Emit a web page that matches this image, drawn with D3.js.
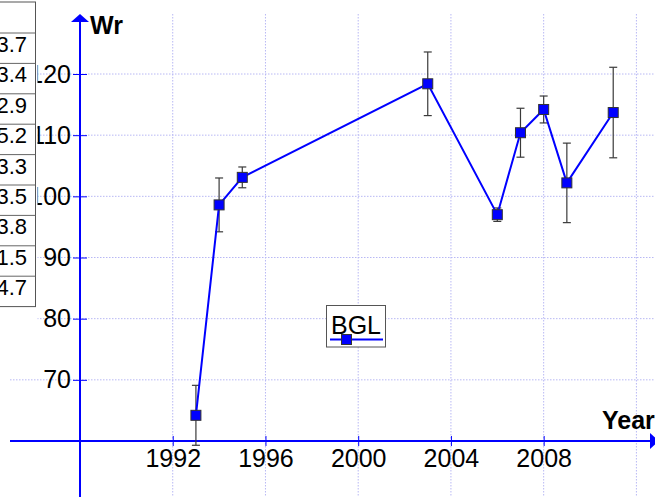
<!DOCTYPE html>
<html>
<head>
<meta charset="utf-8">
<script src="https://cdn.jsdelivr.net/npm/d3@7"></script>
<style>
  body { margin: 0; background: #fff; }
  svg { display: block; }
</style>
</head>
<body>
<svg class="main" width="655" height="497"></svg>
<script>
// data
var years = [1993, 1994, 1995, 2003, 2006, 2007, 2008, 2009, 2011]
var values = [64.2, 98.6, 103.1, 118.4, 97.0, 110.4, 114.2, 102.2, 113.7]
var errors = [4.9, 4.4, 1.7, 5.2, 1.1, 4.0, 2.2, 6.5, 7.4]
var xTicks = [1992, 1996, 2000, 2004, 2008]
var yTicks = [70, 80, 90, 100, 110, 120]
var tableValues = ['3.7', '3.4', '2.9', '5.2', '3.3', '3.5', '3.8', '1.5', '4.7']
var seriesName = 'BGL'

var data = years.map(function(d, i) {
  return {year: d, value: values[i], err: errors[i]}
})

const W = 655, H = 497
const font = "'Liberation Sans', Arial, sans-serif"
const blue = '#0000ff'
const gridColor = '#b8b8f4'

const svg = d3.select('svg.main')

// scales
const x = d3.scaleLinear().domain([1988, 2012]).range([80, 636.4])
const y = d3.scaleLinear().domain([60, 120]).range([441, 74])

// grid
const grid = svg.append('g').attr('class', 'grid')
grid.selectAll('line.v')
  .data(xTicks.concat([2012]))
  .join('line')
  .attr('class', 'v')
  .attr('x1', d => x(d)).attr('x2', d => x(d))
  .attr('y1', 14).attr('y2', H)
grid.selectAll('line.h')
  .data(yTicks)
  .join('line')
  .attr('class', 'h')
  .attr('x1', 10).attr('x2', W)
  .attr('y1', d => y(d)).attr('y2', d => y(d))
grid.selectAll('line')
  .attr('stroke', gridColor)
  .attr('stroke-width', 1)
  .attr('stroke-dasharray', '1.5,1.5')

// y axis labels and ticks
const yAxis = svg.append('g')
  .attr('transform', `translate(${x(1988)},0)`)
  .call(d3.axisLeft(y).tickValues(yTicks).tickSize(7).tickPadding(2))
yAxis.select('.domain').remove()
yAxis.selectAll('.tick line').attr('x1', -7).attr('x2', 7).attr('stroke', blue)
yAxis.selectAll('.tick text')
  .attr('font-family', font).attr('font-size', 25).attr('fill', '#000')

// white area under the (cut off) table
svg.append('rect')
  .attr('x', 0).attr('y', 0).attr('width', 37.5).attr('height', 330)
  .attr('fill', '#fff')

// table at the left edge
const rowH = 30.4, tableTop = 2, headH = 31
const table = svg.append('g').attr('class', 'table')
table.append('rect')
  .attr('x', -5).attr('y', tableTop).attr('width', 40.5)
  .attr('height', headH + rowH * tableValues.length)
  .attr('fill', '#fff').attr('stroke', '#555').attr('stroke-width', 1)
table.selectAll('line')
  .data(tableValues)
  .join('line')
  .attr('x1', 0).attr('x2', 35.5)
  .attr('y1', (d, i) => tableTop + headH + i * rowH)
  .attr('y2', (d, i) => tableTop + headH + i * rowH)
  .attr('stroke', '#666')
table.selectAll('text')
  .data(tableValues)
  .join('text')
  .attr('x', 27)
  .attr('y', (d, i) => tableTop + headH + i * rowH + 19)
  .attr('text-anchor', 'end')
  .attr('font-family', font).attr('font-size', 22)
  .text(d => d)

// x axis labels and ticks
const xAxis = svg.append('g')
  .attr('transform', `translate(0,${y(60)})`)
  .call(d3.axisBottom(x).tickValues(xTicks).tickFormat(d3.format('d')).tickSize(5).tickPadding(3.5))
xAxis.select('.domain').remove()
xAxis.selectAll('.tick line').attr('y1', -5).attr('y2', 5).attr('stroke', blue)
xAxis.selectAll('.tick text')
  .attr('font-family', font).attr('font-size', 25).attr('fill', '#000')

// axis lines with arrows
svg.append('line')
  .attr('x1', 10).attr('x2', 650).attr('y1', y(60)).attr('y2', y(60))
  .attr('stroke', blue).attr('stroke-width', 2)
svg.append('path')
  .attr('d', `M650,${y(60) - 8}L659,${y(60)}L650,${y(60) + 8}Z`)
  .attr('fill', blue)
svg.append('line')
  .attr('x1', x(1988)).attr('x2', x(1988)).attr('y1', 20).attr('y2', H)
  .attr('stroke', blue).attr('stroke-width', 2)
svg.append('path')
  .attr('d', `M${x(1988) - 9},22L${x(1988)},14L${x(1988) + 9},22Z`)
  .attr('fill', blue)

// axis titles
svg.append('text')
  .attr('x', 90).attr('y', 34)
  .attr('font-family', font).attr('font-size', 25).attr('font-weight', 'bold')
  .text('Wr')
svg.append('text')
  .attr('x', 602).attr('y', 429)
  .attr('font-family', font).attr('font-size', 25).attr('font-weight', 'bold')
  .text('Year')

// error bars
const eb = svg.append('g').attr('class', 'errorbars')
  .attr('stroke', '#3a3a3a').attr('stroke-width', 1.2)
eb.selectAll('line.bar')
  .data(data).join('line').attr('class', 'bar')
  .attr('x1', d => x(d.year)).attr('x2', d => x(d.year))
  .attr('y1', d => y(d.value + d.err)).attr('y2', d => y(d.value - d.err))
eb.selectAll('line.top')
  .data(data).join('line').attr('class', 'top')
  .attr('x1', d => x(d.year) - 4).attr('x2', d => x(d.year) + 4)
  .attr('y1', d => y(d.value + d.err)).attr('y2', d => y(d.value + d.err))
eb.selectAll('line.bottom')
  .data(data).join('line').attr('class', 'bottom')
  .attr('x1', d => x(d.year) - 4).attr('x2', d => x(d.year) + 4)
  .attr('y1', d => y(d.value - d.err)).attr('y2', d => y(d.value - d.err))

// line
const line = d3.line().x(d => x(d.year)).y(d => y(d.value))
svg.append('path')
  .datum(data)
  .attr('d', line)
  .attr('fill', 'none')
  .attr('stroke', blue)
  .attr('stroke-width', 2)

// markers
svg.selectAll('rect.marker')
  .data(data)
  .join('rect')
  .attr('class', 'marker')
  .attr('x', d => x(d.year) - 5)
  .attr('y', d => y(d.value) - 5)
  .attr('width', 10).attr('height', 10)
  .attr('fill', blue)
  .attr('stroke', '#333').attr('stroke-width', 1)

// legend
const legend = svg.append('g').attr('class', 'legend')
legend.append('rect')
  .attr('x', 326.5).attr('y', 305.5).attr('width', 59).attr('height', 41.5)
  .attr('fill', '#fff').attr('stroke', '#555').attr('stroke-width', 1)
legend.append('text')
  .attr('x', 331).attr('y', 334)
  .attr('font-family', font).attr('font-size', 25)
  .text(seriesName)
legend.append('line')
  .attr('x1', 330).attr('x2', 383).attr('y1', 339.5).attr('y2', 339.5)
  .attr('stroke', blue).attr('stroke-width', 2)
legend.append('rect')
  .attr('x', 341.5).attr('y', 334.5).attr('width', 10).attr('height', 10)
  .attr('fill', blue).attr('stroke', '#333').attr('stroke-width', 1)
</script>
</body>
</html>
